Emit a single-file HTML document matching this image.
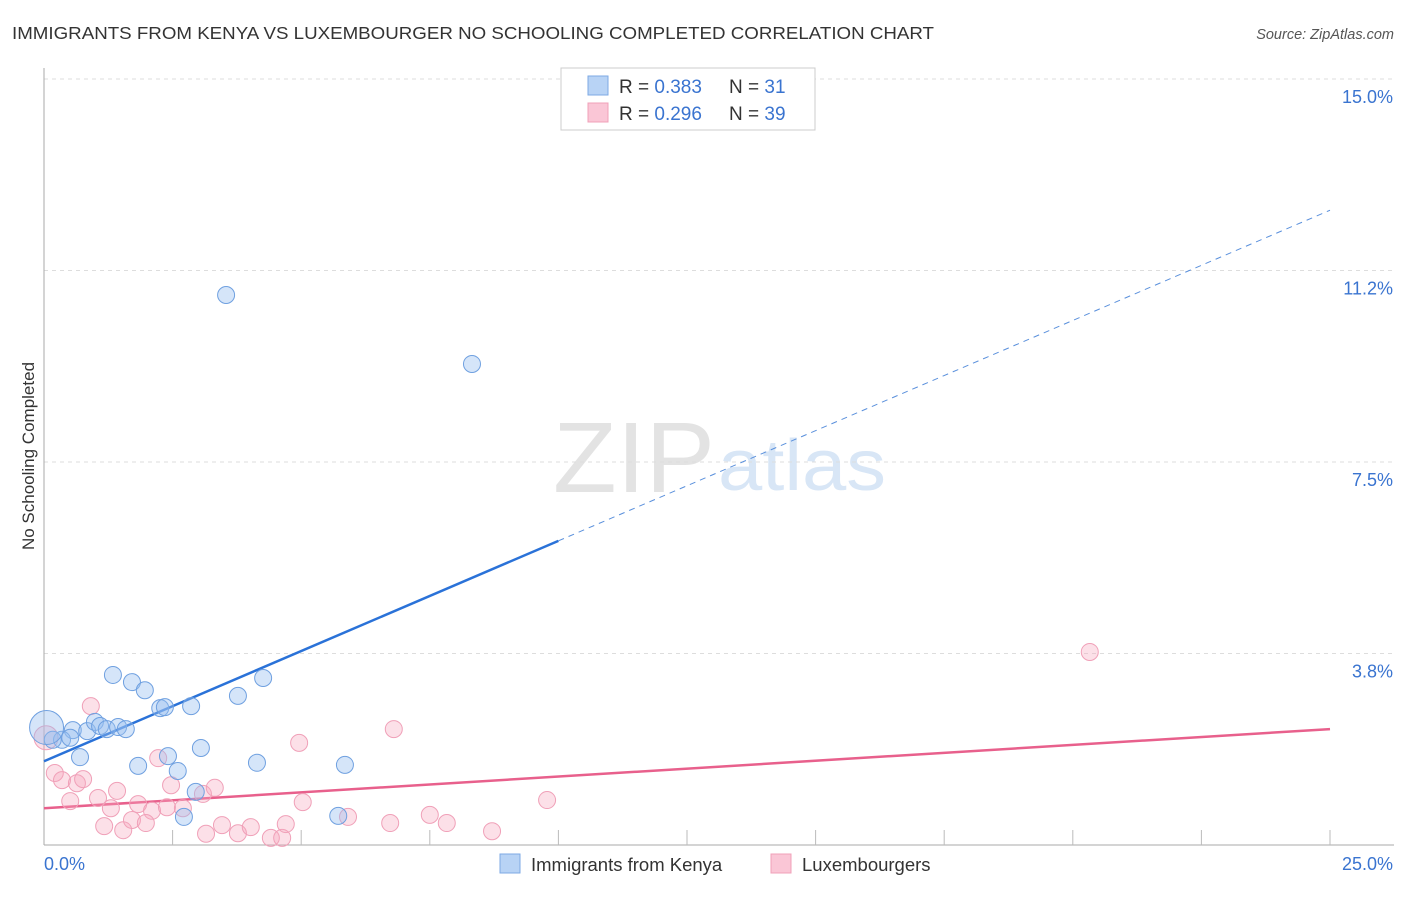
<!DOCTYPE html>
<html><head><meta charset="utf-8"><style>
body{margin:0;background:#fff;font-family:"Liberation Sans",sans-serif}
svg text{font-family:"Liberation Sans",sans-serif}
</style></head><body>
<svg id="chart" width="1406" height="892">
<text x="12" y="39" font-size="17.5" fill="#333" textLength="922" lengthAdjust="spacingAndGlyphs">IMMIGRANTS FROM KENYA VS LUXEMBOURGER NO SCHOOLING COMPLETED CORRELATION CHART</text>
<text x="1394" y="39" font-size="14.5" fill="#555" font-style="italic" text-anchor="end">Source: ZipAtlas.com</text>
<g>
<text x="553" y="492" font-size="100" fill="#e3e3e3" font-family="Liberation Serif" textLength="162" lengthAdjust="spacingAndGlyphs">ZIP</text>
<text x="718" y="490" font-size="72" fill="#d8e6f6" textLength="168" lengthAdjust="spacingAndGlyphs">atlas</text>
</g>
<g id="grid"></g>
<g id="axes"></g>
<g id="lines"></g>
<g id="points"></g>
<text transform="translate(34,456) rotate(-90)" font-size="17" fill="#333" text-anchor="middle">No Schooling Completed</text>
<g>
<rect x="561" y="68" width="254" height="62" fill="#fff" stroke="#ccc"/>
<rect x="588" y="76" width="20" height="19" fill="#b8d3f5" stroke="#7ea9e4"/>
<rect x="588" y="103" width="20" height="19" fill="#fac6d6" stroke="#f0a0b8"/>
<text x="619" y="93" font-size="19" fill="#333">R = <tspan fill="#3a74d0">0.383</tspan></text>
<text x="729" y="93" font-size="19" fill="#333">N = <tspan fill="#3a74d0"> 31</tspan></text>
<text x="619" y="120" font-size="19" fill="#333">R = <tspan fill="#3a74d0">0.296</tspan></text>
<text x="729" y="120" font-size="19" fill="#333">N = <tspan fill="#3a74d0">39</tspan></text>
</g>
<g>
<rect x="500" y="854" width="20" height="19" fill="#b8d3f5" stroke="#7ea9e4"/>
<text x="531" y="871" font-size="18.5" fill="#333">Immigrants from Kenya</text>
<rect x="771" y="854" width="20" height="19" fill="#fac6d6" stroke="#f0a0b8"/>
<text x="802" y="871" font-size="18.5" fill="#333">Luxembourgers</text>
</g>
</svg>
<script>
const yTicks=[3.75,7.5,11.25,15];
const yTickLabels=["3.8%","7.5%","11.2%","15.0%"];
const xTickVals=[2.5,5,7.5,10,12.5,15,17.5,20,22.5,25];
const xAxisLabels=["0.0%","25.0%"];
const kenyaX=[1.34,1.71,1.96,2.26,2.35,2.86,3.77,4.26,0.56,0.84,0.99,1.09,1.22,1.44,1.59,0.35,0.17,0.51,0.70,1.83,2.41,2.60,3.05,4.14,5.85,2.95,2.72,5.72,3.54,8.32,0.05];
const kenyaY=[3.33,3.19,3.03,2.68,2.70,2.72,2.92,3.27,2.25,2.23,2.41,2.33,2.27,2.31,2.27,2.06,2.06,2.10,1.72,1.55,1.74,1.45,1.90,1.61,1.57,1.04,0.55,0.57,10.77,9.42,2.3];
const luxX=[0.91,4.96,6.80,2.22,0.21,0.35,0.64,0.76,0.51,1.05,1.42,1.30,1.83,2.10,2.39,2.70,2.47,3.09,3.32,5.03,1.17,1.54,1.71,1.98,3.15,3.46,3.77,4.02,4.41,4.63,4.70,5.91,6.73,7.50,7.83,20.33,9.78,8.71,0.04];
const luxY=[2.72,2.00,2.27,1.70,1.41,1.27,1.21,1.29,0.86,0.92,1.06,0.72,0.80,0.67,0.74,0.72,1.17,1.00,1.12,0.84,0.37,0.29,0.49,0.43,0.22,0.39,0.23,0.35,0.14,0.14,0.41,0.55,0.43,0.59,0.43,3.78,0.88,0.27,2.1];
const kenyaLine=[1.64,12.43];
const luxLine=[0.72,2.27];
const kenyaSolidEnd=10.0;
const NS="http://www.w3.org/2000/svg";
const sx=v=>44+v*1286/25, sy=v=>845-v*766/15;
function mk(t,a,p){const e=document.createElementNS(NS,t);for(const k in a)e.setAttribute(k,a[k]);document.getElementById(p).appendChild(e);return e;}
yTicks.forEach((t,i)=>{
 const g=mk('line',{x1:44,x2:1394,y1:sy(t),y2:sy(t),stroke:'#ddd','stroke-dasharray':'4,4'},'grid');
 
 
 const l=mk('text',{x:1393,y:sy(t)+24,'font-size':18,fill:'#3a74d0','text-anchor':'end'},'axes');l.textContent=yTickLabels[i];
 
 
});
const ax=mk('line',{x1:44,x2:44,y1:68,y2:845,stroke:'#aaa'},'axes');


const bx=mk('line',{x1:44,x2:1394,y1:845,y2:845,stroke:'#aaa'},'axes');


xTickVals.forEach(t=>{const e=mk('line',{x1:sx(t),x2:sx(t),y1:830,y2:845,stroke:'#bbb'},'axes');
 
 });
const xl0=mk('text',{x:44,y:870,'font-size':18,fill:'#3a74d0'},'axes');xl0.textContent=xAxisLabels[0];


const xl1=mk('text',{x:1393,y:870,'font-size':18,fill:'#3a74d0','text-anchor':'end'},'axes');xl1.textContent=xAxisLabels[1];


function pts(xs,ys,fill,stroke,name){xs.forEach((x,i)=>{const big=i===xs.length-1;
 const c=mk('circle',{cx:sx(x),cy:sy(ys[i]),r:big?(name==='kenya-point'?17:12):8.5,fill:fill,stroke:stroke,'stroke-width':1},'points');
 
 });}
pts(luxX,luxY,'rgba(245,165,190,0.35)','#f0a0b8','luxembourger-point');
pts(kenyaX,kenyaY,'rgba(150,190,240,0.4)','#6fa0e0','kenya-point');
const kf=x=>kenyaLine[0]+(kenyaLine[1]-kenyaLine[0])*x/25;
const b1=mk('line',{x1:sx(0),y1:sy(kf(0)),x2:sx(kenyaSolidEnd),y2:sy(kf(kenyaSolidEnd)),stroke:'#2a72d8','stroke-width':2.5},'lines');


const b2=mk('line',{x1:sx(kenyaSolidEnd),y1:sy(kf(kenyaSolidEnd)),x2:sx(25),y2:sy(kf(25)),stroke:'#5a90dc','stroke-width':1,'stroke-dasharray':'6,5'},'lines');


const p1=mk('line',{x1:sx(0),y1:sy(luxLine[0]),x2:sx(25),y2:sy(luxLine[1]),stroke:'#e8608c','stroke-width':2.5},'lines');


</script>
</body></html>
